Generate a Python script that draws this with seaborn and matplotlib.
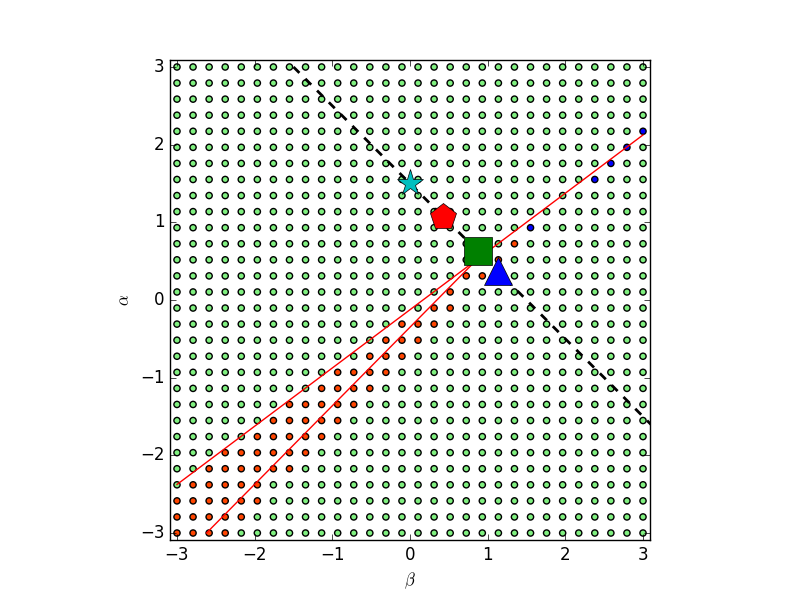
import numpy as np
import pandas as pd
import matplotlib
matplotlib.use("Agg")
import matplotlib.pyplot as plt
import seaborn as sns

plt.style.use("classic")

# grid of starting points
beta_grid = np.linspace(-3, 3, 30)
alpha_grid = np.linspace(-3, 3, 30)

# orange-red cells: for alpha rows 0..18, first and last beta index
orange_start = [0, 0, 0, 1, 2, 3, 5, 6, 7, 9, 10, 12, 13, 14, 16, 17, 18, 20, 21]
orange_end = [3, 4, 5, 5, 7, 8, 9, 10, 11, 12, 13, 14, 15, 16, 17, 17, 19, 20, 21]

# blue cells (beta index, alpha index)
blue_cells = [(29, 25), (28, 24), (27, 23), (26, 22), (22, 19)]

# red lines
line1_beta = [-3.0, 3.0]
line1_alpha = [-2.375, 2.125]
line2_beta = [-2.62, 0.87]
line2_alpha = [-3.0, 0.53]

# dashed line alpha = 1.5 - beta
dash_beta = [-1.5, 3.2]
dash_alpha = [3.0, -1.7]

# big markers on the dashed line
mark_beta = [0.0, 0.43, 0.87, 1.13]
mark_alpha = [1.5, 1.07, 0.63, 0.37]
mark_shape = ["*", "p", "s", "^"]
mark_color = ["c", "r", "g", "b"]

# build table of cells
rows = []
for j, a in enumerate(alpha_grid):
    for i, b in enumerate(beta_grid):
        cls = "green"
        if j < len(orange_start) and orange_start[j] <= i <= orange_end[j]:
            cls = "orange"
        if (i, j) in blue_cells:
            cls = "blue"
        rows.append((b, a, cls))
df = pd.DataFrame(rows, columns=["beta", "alpha", "cls"])

fig = plt.figure(figsize=(8, 6), dpi=100)
ax = fig.add_subplot(111)

sns.scatterplot(data=df, x="beta", y="alpha", hue="cls",
                palette={"green": "#80F080", "orange": "#FF4500", "blue": "#0000FF"},
                s=20, edgecolor="k", linewidth=1, legend=False, ax=ax, zorder=1)

ax.plot(line1_beta, line1_alpha, color="r", lw=1)
ax.plot(line2_beta, line2_alpha, color="r", lw=1)
ax.plot(dash_beta, dash_alpha, "k--", lw=2)

for b, a, m, c in zip(mark_beta, mark_alpha, mark_shape, mark_color):
    ax.plot(b, a, marker=m, color=c, markersize=20, markeredgecolor="k",
            markeredgewidth=0.5, linestyle="none")

ax.set_xlim(-3.09, 3.09)
ax.set_ylim(-3.09, 3.09)
ax.set_xticks([-3, -2, -1, 0, 1, 2, 3])
ax.set_yticks([-3, -2, -1, 0, 1, 2, 3])
ax.set_aspect("equal")
ax.set_xlabel(r"$\beta$")
ax.set_ylabel(r"$\alpha$")

fig.savefig("out.png", dpi=100)
